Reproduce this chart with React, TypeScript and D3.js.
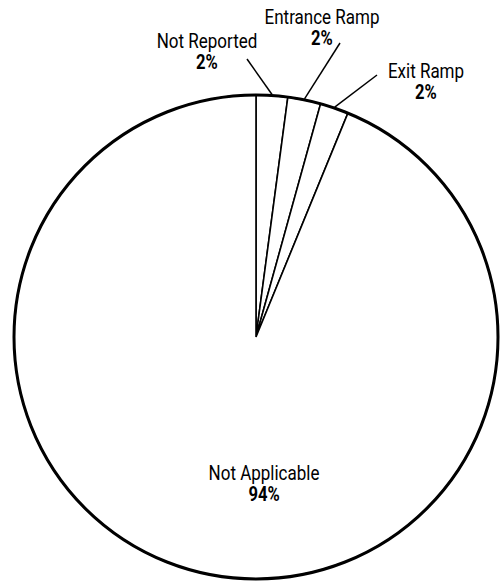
import React from "react";
import * as d3 from "d3";

const categories = ["Not Reported", "Entrance Ramp", "Exit Ramp", "Not Applicable"];
const shares = [2.1, 2.2, 1.9, 93.8];
const percentLabels = ["2%", "2%", "2%", "94%"];

const width = 500;
const height = 584;
const cx = 256;
const cy = 337;
const radius = 242;
const font = "Roboto, 'Liberation Sans', sans-serif";
const fontSize = 20;
const squeeze = 0.85;

// label placement relative to the pie centre: [text x, name baseline y, leader end x, leader end y]
const labelLayout: Record<string, number[]> = {
  "Not Reported": [-49, -289, -9, -278],
  "Entrance Ramp": [66, -313, 84, -294],
  "Exit Ramp": [170, -259, 121, -262],
};

const Label: React.FC<{ x: number; y: number; name: string; pct: string }> = ({ x, y, name, pct }) => (
  <g transform={`translate(${x},${y}) scale(${squeeze},1)`}>
    <text textAnchor="middle" fontFamily={font} fontSize={fontSize} fill="#000">
      {name}
    </text>
    <text y={21.5} textAnchor="middle" fontFamily={font} fontSize={fontSize - 0.5} fontWeight="bold" fill="#000">
      {pct}
    </text>
  </g>
);

const App: React.FC = () => {
  const data = categories.map((name, i) => ({ name, value: shares[i], label: percentLabels[i] }));
  const pie = d3.pie<{ name: string; value: number }>().sort(null).value((d) => d.value);
  const arcs = pie(data);
  const arc = d3.arc<d3.PieArcDatum<any>>().innerRadius(0).outerRadius(radius);

  return (
    <svg
      width={width}
      height={height}
      style={{ position: "absolute", left: 0, top: 0, background: "#fff" }}
    >
      <g transform={`translate(${cx},${cy})`}>
        {arcs.map((a) => (
          <path key={a.data.name} d={arc(a) || ""} fill="#fff" stroke="#000" strokeWidth={1.6} />
        ))}
        <circle r={radius} fill="none" stroke="#000" strokeWidth={3} />

        {arcs.map((a) => {
          const lay = labelLayout[a.data.name];
          if (!lay) return null;
          const mid = (a.startAngle + a.endAngle) / 2;
          const x1 = Math.sin(mid) * (radius + 1);
          const y1 = -Math.cos(mid) * (radius + 1);
          return (
            <g key={a.data.name}>
              <line x1={x1} y1={y1} x2={lay[2]} y2={lay[3]} stroke="#000" strokeWidth={1.5} />
              <Label x={lay[0]} y={lay[1]} name={a.data.name} pct={a.data.label} />
            </g>
          );
        })}

        <Label x={8} y={143} name={data[3].name} pct={data[3].label} />
      </g>
    </svg>
  );
};

export default App;
